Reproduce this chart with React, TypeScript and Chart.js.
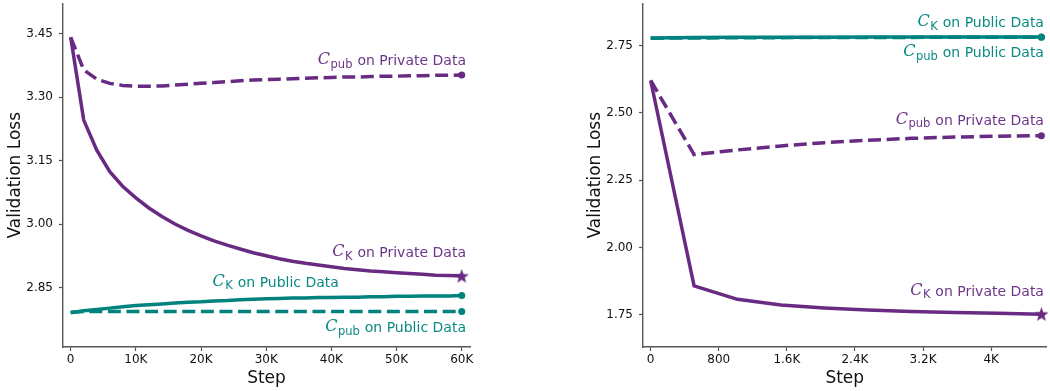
import React, { useEffect, useRef } from "react";
import { Chart, registerables } from "chart.js";

Chart.register(...registerables);

// ---------- Data ----------
const leftSteps = [0, 2000, 4000, 6000, 8000, 10000, 12000, 14000, 16000, 18000, 20000, 22000, 24000, 26000, 28000, 30000, 32000, 34000, 36000, 38000, 40000, 42000, 44000, 46000, 48000, 50000, 52000, 54000, 56000, 58000, 60000];
const leftKPrivate = [3.442, 3.246, 3.175, 3.124, 3.089, 3.062, 3.038, 3.018, 3.0, 2.985, 2.972, 2.96, 2.95, 2.941, 2.932, 2.925, 2.918, 2.912, 2.907, 2.903, 2.899, 2.895, 2.892, 2.889, 2.887, 2.885, 2.883, 2.881, 2.879, 2.878, 2.877];
const leftPubPrivate = [3.442, 3.365, 3.343, 3.333, 3.328, 3.326, 3.326, 3.327, 3.329, 3.331, 3.333, 3.335, 3.337, 3.339, 3.341, 3.342, 3.343, 3.344, 3.345, 3.346, 3.347, 3.348, 3.348, 3.349, 3.35, 3.35, 3.351, 3.351, 3.352, 3.352, 3.353];
const leftKPublic = [2.79, 2.795, 2.798, 2.801, 2.804, 2.807, 2.809, 2.811, 2.813, 2.815, 2.816, 2.818, 2.819, 2.821, 2.822, 2.823, 2.824, 2.825, 2.825, 2.826, 2.826, 2.827, 2.827, 2.828, 2.828, 2.829, 2.829, 2.83, 2.83, 2.83, 2.831];
const leftPubPublic = [2.791, 2.793, 2.793, 2.793, 2.793, 2.793, 2.793, 2.793, 2.793, 2.793, 2.793, 2.793, 2.793, 2.793, 2.793, 2.793, 2.793, 2.793, 2.793, 2.793, 2.793, 2.793, 2.793, 2.793, 2.793, 2.793, 2.793, 2.793, 2.793, 2.793, 2.793];

const rightSteps = [0, 510, 1020, 1530, 2040, 2550, 3060, 3570, 4080, 4590];
const rightKPrivate = [2.62, 1.857, 1.807, 1.786, 1.775, 1.767, 1.762, 1.758, 1.755, 1.752];
const rightPubPrivate = [2.62, 2.345, 2.362, 2.377, 2.389, 2.398, 2.405, 2.41, 2.413, 2.415];
const rightKPublic = [2.778, 2.78, 2.781, 2.781, 2.781, 2.782, 2.782, 2.782, 2.782, 2.782];
const rightPubPublic = [2.777, 2.778, 2.779, 2.779, 2.78, 2.78, 2.78, 2.781, 2.781, 2.781];

const leftXTicks = [0, 10000, 20000, 30000, 40000, 50000, 60000];
const leftXTickLabels = ["0", "10K", "20K", "30K", "40K", "50K", "60K"];
const leftYTicks = [2.85, 3.0, 3.15, 3.3, 3.45];
const leftYTickLabels = ["2.85", "3.00", "3.15", "3.30", "3.45"];
const rightXTicks = [0, 800, 1600, 2400, 3200, 4000];
const rightXTickLabels = ["0", "800", "1.6K", "2.4K", "3.2K", "4K"];
const rightYTicks = [1.75, 2.0, 2.25, 2.5, 2.75];
const rightYTickLabels = ["1.75", "2.00", "2.25", "2.50", "2.75"];

// annotation labels: subscript, rest of text, anchor (right edge / baseline, in data units), colour key
const leftLabels = [
  { sub: "pub", rest: " on Private Data", x: 60650, y: 3.376, c: "purple" },
  { sub: "K", rest: " on Private Data", x: 60650, y: 2.921, c: "purple" },
  { sub: "K", rest: " on Public Data", x: 41160, y: 2.852, c: "teal" },
  { sub: "pub", rest: " on Public Data", x: 60650, y: 2.744, c: "teal" },
];
const rightLabels = [
  { sub: "K", rest: " on Public Data", x: 4620, y: 2.8175, c: "teal" },
  { sub: "pub", rest: " on Public Data", x: 4620, y: 2.707, c: "teal" },
  { sub: "pub", rest: " on Private Data", x: 4620, y: 2.455, c: "purple" },
  { sub: "K", rest: " on Private Data", x: 4620, y: 1.82, c: "purple" },
];

// ---------- Styles ----------
const PURPLE = "#682a82";
const TEAL = "#00837e";
const PURPLE_TEXT = "#6e3689";
const TEAL_TEXT = "#0b8a84";
const AXIS = "#555555";
const FONT = "DejaVu Sans";

function makeStar(color: string, size: number) {
  const c = document.createElement("canvas");
  c.width = size;
  c.height = size;
  const g = c.getContext("2d")!;
  const cx = size / 2, cy = size / 2 + 0.6;
  const R = size / 2, r = R * 0.42;
  g.beginPath();
  for (let i = 0; i < 10; i++) {
    const ang = -Math.PI / 2 + (i * Math.PI) / 5;
    const rad = i % 2 === 0 ? R : r;
    const px = cx + rad * Math.cos(ang), py = cy + rad * Math.sin(ang);
    if (i === 0) g.moveTo(px, py); else g.lineTo(px, py);
  }
  g.closePath();
  g.fillStyle = color;
  g.fill();
  return c;
}

function series(xs: number[], ys: number[]) {
  return xs.map((x, i) => ({ x, y: ys[i] }));
}

function lineDs(data: any[], color: string, dashed: boolean, endMarker: "dot" | "star") {
  const last = data.length - 1;
  const star = makeStar(color, 15);
  return {
    data,
    borderColor: color,
    backgroundColor: color,
    borderWidth: 3.5,
    borderDash: dashed ? [13, 5.6] : [],
    borderCapStyle: "butt",
    tension: 0,
    clip: false as any,
    pointRadius: (ctx: any) => (ctx.dataIndex === last ? 3.5 : 0),
    pointHoverRadius: 0,
    pointBorderWidth: 0,
    pointStyle: endMarker === "star" ? ((ctx: any) => (ctx.dataIndex === last ? star : "circle")) : "circle",
  };
}

const labelPlugin = (labels: any[]) => ({
  id: "labels",
  afterDraw(chart: any) {
    const { ctx } = chart;
    const xs = chart.scales.x, ys = chart.scales.y;
    ctx.save();
    ctx.textBaseline = "alphabetic";
    ctx.textAlign = "left";
    for (const l of labels) {
      const color = l.c === "purple" ? PURPLE_TEXT : TEAL_TEXT;
      const fMain = `14px "${FONT}"`;
      const fC = `italic 16px "DejaVu Serif"`;
      const fSub = `11.5px "${FONT}"`;
      ctx.font = fC; const wC = ctx.measureText("C").width;
      ctx.font = fSub; const wS = ctx.measureText(l.sub).width;
      ctx.font = fMain; const wR = ctx.measureText(l.rest).width;
      const xr = xs.getPixelForValue(l.x);
      const yb = ys.getPixelForValue(l.y);
      let x = xr - (wC + wS + 1 + wR);
      ctx.fillStyle = color;
      ctx.font = fC; ctx.fillText("C", x, yb - 1); x += wC + 0.5;
      ctx.font = fSub; ctx.fillText(l.sub, x, yb + 2.5); x += wS + 0.5;
      ctx.font = fMain; ctx.fillText(l.rest, x, yb);
    }
    ctx.restore();
  },
});

function makeConfig(opts: any) {
  const { datasets, xMin, xMax, yMin, yMax, xTicks, xLabels, yTicks, yLabels, labels, padLeft, padRight } = opts;
  const tickFont = { family: FONT, size: 12 };
  return {
    type: "line",
    data: { datasets },
    options: {
      animation: false,
      responsive: false,
      devicePixelRatio: 1,
      events: [],
      layout: { padding: { left: padLeft, right: padRight, top: 1, bottom: 0 } },
      plugins: { legend: { display: false }, tooltip: { enabled: false } },
      scales: {
        x: {
          type: "linear",
          min: xMin,
          max: xMax,
          afterBuildTicks: (s: any) => { s.ticks = xTicks.map((v: number) => ({ value: v })); },
          afterFit: (s: any) => { s.height = 44; s.paddingLeft = 0; s.paddingRight = 0; },
          ticks: {
            autoSkip: false,
            maxRotation: 0,
            padding: 2,
            color: "#111",
            font: tickFont,
            callback: (v: number) => { const i = xTicks.indexOf(v); return i >= 0 ? xLabels[i] : ""; },
          },
          grid: { drawOnChartArea: false, drawTicks: true, tickLength: 4, tickColor: AXIS, tickWidth: 1.2 },
          border: { display: true, color: AXIS, width: 1.4 },
          title: { display: true, text: "Step", color: "#111", font: { family: FONT, size: 17 }, padding: { top: 0, bottom: 2 } },
        },
        y: {
          type: "linear",
          min: yMin,
          max: yMax,
          afterBuildTicks: (s: any) => { s.ticks = yTicks.map((v: number) => ({ value: v })); },
          afterFit: (s: any) => { s.width = 63; s.paddingTop = 0; s.paddingBottom = 0; },
          ticks: {
            autoSkip: false,
            padding: 6,
            color: "#111",
            font: tickFont,
            callback: (v: number) => { const i = yTicks.findIndex((t: number) => Math.abs(t - v) < 1e-9); return i >= 0 ? yLabels[i] : ""; },
          },
          grid: { drawOnChartArea: false, drawTicks: true, tickLength: 4, tickColor: AXIS, tickWidth: 1.2 },
          border: { display: true, color: AXIS, width: 1.4 },
          title: { display: true, text: "Validation Loss", color: "#111", font: { family: FONT, size: 17 }, padding: { top: 5, bottom: 0 } },
        },
      },
    },
    plugins: [labelPlugin(labels)],
  } as any;
}

function ChartCanvas({ config, left }: { config: () => any; left: number }) {
  const ref = useRef<HTMLCanvasElement | null>(null);
  useEffect(() => {
    const chart = new Chart(ref.current!, config());
    return () => chart.destroy();
  }, []);
  return (
    <canvas ref={ref} width={525} height={391} style={{ position: "absolute", left, top: 0, width: 525, height: 391 }} />
  );
}

export default function App() {
  const leftConfig = () =>
    makeConfig({
      datasets: [
        lineDs(series(leftSteps, leftKPrivate), PURPLE, false, "star"),
        lineDs(series(leftSteps, leftPubPrivate), PURPLE, true, "dot"),
        lineDs(series(leftSteps, leftKPublic), TEAL, false, "dot"),
        lineDs(series(leftSteps, leftPubPublic), TEAL, true, "dot"),
      ],
      xMin: -1180, xMax: 61270, yMin: 2.709, yMax: 3.522,
      xTicks: leftXTicks, xLabels: leftXTickLabels, yTicks: leftYTicks, yLabels: leftYTickLabels,
      labels: leftLabels, padLeft: 0, padRight: 55,
    });
  const rightConfig = () =>
    makeConfig({
      datasets: [
        lineDs(series(rightSteps, rightKPrivate), PURPLE, false, "star"),
        lineDs(series(rightSteps, rightPubPrivate), PURPLE, true, "dot"),
        lineDs(series(rightSteps, rightKPublic), TEAL, false, "dot"),
        lineDs(series(rightSteps, rightPubPublic), TEAL, true, "dot"),
      ],
      xMin: -90, xMax: 4650, yMin: 1.63, yMax: 2.906,
      xTicks: rightXTicks, xLabels: rightXTickLabels, yTicks: rightYTicks, yLabels: rightYTickLabels,
      labels: rightLabels, padLeft: 55, padRight: 0,
    });
  return (
    <div style={{ position: "absolute", left: 0, top: 0, width: 1050, height: 391, background: "#fff" }}>
      <ChartCanvas config={leftConfig} left={0} />
      <ChartCanvas config={rightConfig} left={525} />
    </div>
  );
}
